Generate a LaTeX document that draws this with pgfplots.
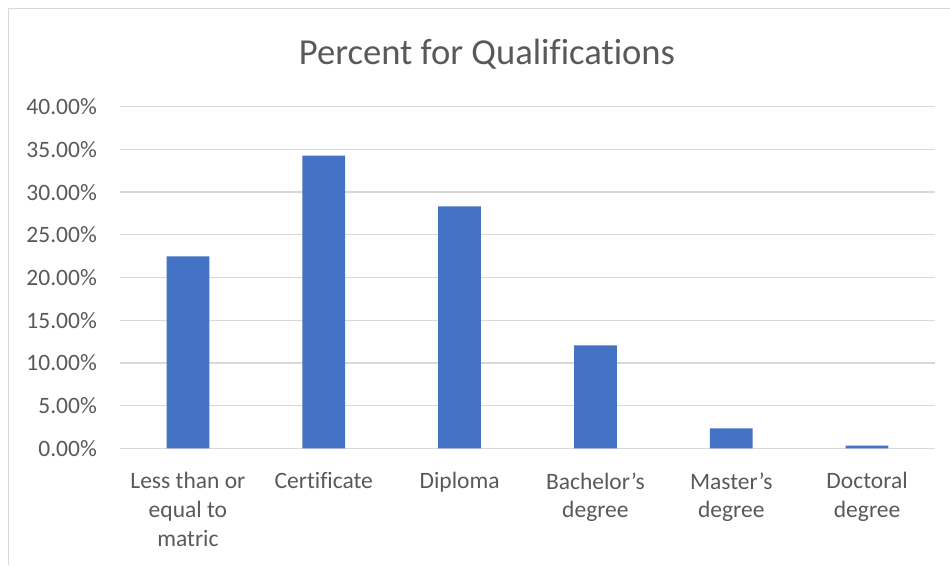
\documentclass[border=0pt]{standalone}
\usepackage{pgfplots}
\pgfplotsset{compat=1.18}
\usepackage{fontspec}
\setmainfont{Carlito}[Ligatures=NoCommon]

\definecolor{barblue}{HTML}{4472C4}
\definecolor{gridgray}{HTML}{D9D9D9}
\definecolor{textgray}{HTML}{595959}

\begin{document}
\begin{tikzpicture}
  \useasboundingbox (0pt,0pt) rectangle (950pt,565pt);
  % chart frame (left and top edges)
  \draw[gridgray, line width=1.3pt] (8.5pt,0pt) -- (8.5pt,556.5pt) -- (950pt,556.5pt);
  % title
  \node[textgray, font=\fontsize{36.6}{44}\selectfont] at (487pt,511pt) {Percent for Qualifications};
  \begin{axis}[
    at={(120pt,116.7pt)}, anchor=south west,
    scale only axis,
    width=815pt, height=341.6pt,
    xmin=-0.5, xmax=5.5,
    ymin=0, ymax=40,
    ytick={0,5,...,40},
    xtick={0,...,5},
    xticklabels={{Less than or\\equal to\\matric},Certificate,Diploma,{Bachelor’s\\degree},{Master’s\\degree},{Doctoral\\degree}},
    /pgf/number format/assume math mode=true,
    yticklabel={\pgfmathprintnumber[fixed,fixed zerofill,precision=2]{\tick}\%},
    yticklabel style={font=\fontsize{23.5}{28}\selectfont, text=textgray, inner sep=0pt, anchor=east, xshift=-23pt},
    xticklabel style={font=\fontsize{23.5}{28.7}\selectfont, text=textgray, align=center, inner sep=0pt, anchor=north, yshift=-24pt},
    major tick length=0pt,
    ymajorgrids,
    grid style={gridgray, line width=1.3pt},
    axis x line*=bottom,
    axis y line*=left,
    y axis line style={draw=none},
    x axis line style={gridgray, line width=1.3pt, -},
  ]
    \addplot[ybar, bar width=42.7pt, fill=barblue, draw=none] coordinates {
      (0,22.48) (1,34.26) (2,28.34) (3,12.06) (4,2.34) (5,0.30)
    };
  \end{axis}
\end{tikzpicture}
\end{document}
